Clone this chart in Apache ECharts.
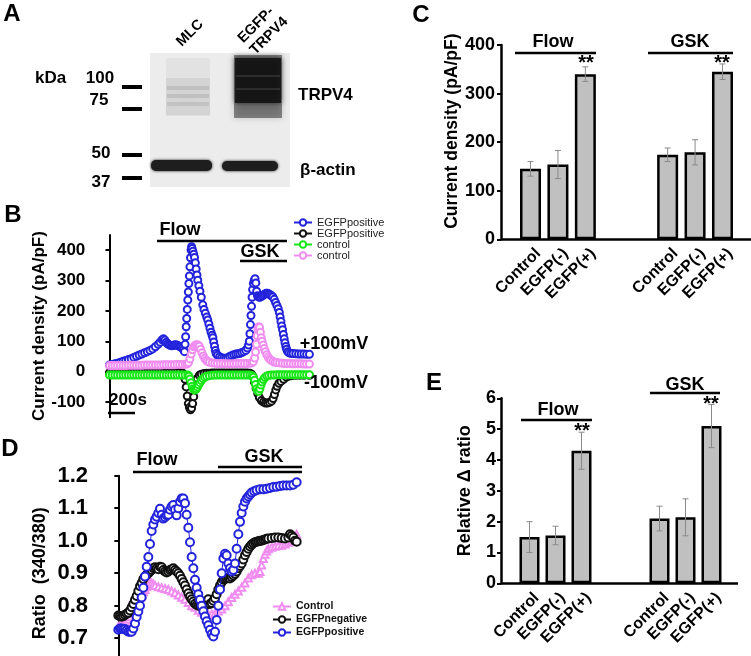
<!DOCTYPE html>
<html>
<head>
<meta charset="utf-8">
<script src="https://cdn.jsdelivr.net/npm/echarts@6.0.0/dist/echarts.min.js"></script>
<style>html,body{margin:0;padding:0;background:#fff;}#chart{width:751px;height:656px;}</style>
</head>
<body>
<div id="chart"></div>
<script>
// ===== Panel B: current density traces, [time (s), pA/pF] =====
const bYTicks = [-100, 0, 100, 200, 300, 400];
const bBluePos = [[0,22],[20,24],[40,26],[60,28],[80,31],[100,34],[120,37],[140,40],[160,43],[180,47],[200,51],[220,55],[240,58],[260,62],[280,66],[300,70],[320,75],[340,82],[360,90],[375,97],[390,105],[400,108],[410,104],[420,97],[430,92],[440,89],[450,87],[460,85],[470,86],[480,88],[490,89],[500,87],[510,85],[520,83],[530,81],[540,77],[548,72],[556,66],[560,90],[564,115],[568,148],[572,175],[576,205],[580,236],[584,262],[588,290],[592,315],[596,345],[600,375],[604,400],[608,411],[612,405],[618,396],[624,386],[630,376],[636,358],[642,338],[648,318],[654,301],[662,283],[670,265],[680,245],[691,220],[700,205],[710,192],[720,180],[728,170],[736,157],[744,143],[752,130],[760,120],[766,112],[772,98],[778,84],[784,70],[790,60],[800,54],[815,49],[830,46],[845,44],[860,44],[875,46],[890,50],[905,53],[920,56],[935,58],[950,59],[965,60],[980,63],[995,66],[1010,70],[1022,78],[1030,88],[1036,100],[1040,125],[1044,155],[1048,185],[1052,215],[1056,245],[1060,270],[1066,290],[1072,300],[1078,306],[1084,292],[1090,265],[1096,250],[1104,246],[1112,245],[1120,246],[1130,249],[1140,252],[1150,255],[1160,258],[1170,258],[1180,256],[1190,253],[1200,250],[1210,246],[1220,238],[1230,228],[1240,218],[1250,207],[1258,195],[1264,180],[1270,165],[1276,150],[1282,138],[1288,122],[1294,108],[1300,95],[1306,83],[1312,74],[1320,66],[1330,62],[1345,60],[1360,60],[1380,59],[1400,58],[1420,58],[1440,58],[1460,57],[1481,57]];
const bBlackPos = [[0,-3],[20,-3],[40,-3],[60,-3],[80,-3],[100,-3],[120,-3],[140,-3],[160,-3],[180,-3],[200,-3],[220,-3],[240,-3],[260,-3],[280,-3],[300,-3],[320,-3],[340,-3],[360,-3],[380,-3],[400,-3],[420,-3],[440,-3],[460,-3],[480,-3],[500,-3],[520,-3],[540,-4],[552,-10],[560,-25],[568,-50],[576,-80],[584,-105],[592,-118],[600,-125],[608,-120],[616,-105],[624,-82],[632,-58],[640,-38],[650,-22],[665,-12],[680,-8],[700,-6],[720,-5],[740,-5],[760,-4],[780,-4],[800,-4],[820,-4],[840,-4],[860,-4],[880,-4],[900,-4],[920,-4],[940,-4],[960,-4],[980,-4],[1000,-4],[1020,-4],[1040,-5],[1052,-8],[1062,-15],[1074,-35],[1086,-55],[1098,-72],[1110,-85],[1125,-95],[1140,-100],[1155,-103],[1170,-103],[1185,-101],[1200,-97],[1212,-88],[1222,-75],[1232,-60],[1242,-48],[1255,-38],[1270,-32],[1290,-25],[1310,-18],[1330,-14],[1350,-13],[1380,-12],[1410,-12],[1440,-12],[1481,-12]];
const bGreenCtl = [[0,-11],[20,-11],[40,-11],[60,-11],[80,-11],[100,-11],[120,-11],[140,-11],[160,-11],[180,-11],[200,-11],[220,-11],[240,-11],[260,-11],[280,-11],[300,-11],[320,-11],[340,-11],[360,-11],[380,-11],[400,-11],[420,-11],[440,-11],[460,-11],[480,-11],[500,-11],[520,-11],[540,-11],[560,-11],[580,-11],[588,-15],[596,-24],[604,-36],[612,-48],[620,-56],[628,-60],[636,-60],[644,-56],[652,-50],[660,-43],[670,-36],[680,-29],[692,-23],[705,-18],[720,-15],[740,-13],[760,-12],[780,-11],[800,-11],[820,-11],[840,-11],[860,-11],[880,-11],[900,-11],[920,-11],[940,-11],[960,-11],[980,-11],[1000,-11],[1020,-11],[1040,-11],[1056,-13],[1066,-18],[1074,-28],[1082,-42],[1090,-56],[1098,-64],[1106,-64],[1114,-56],[1122,-44],[1130,-34],[1140,-26],[1152,-19],[1166,-14],[1180,-12],[1200,-11],[1220,-11],[1240,-10],[1260,-10],[1280,-10],[1300,-10],[1320,-10],[1340,-10],[1360,-10],[1380,-10],[1400,-10],[1420,-10],[1440,-10],[1460,-10],[1481,-10]];
const bPinkCtl = [[0,20],[20,20],[40,20],[60,20],[80,20],[100,20],[120,20],[140,21],[160,21],[180,21],[200,21],[220,21],[240,21],[260,22],[280,22],[300,22],[320,22],[340,22],[360,22],[380,22],[400,23],[420,23],[440,23],[460,23],[480,23],[500,24],[520,24],[540,24],[560,24],[575,25],[585,30],[595,42],[605,58],[615,72],[625,82],[635,87],[645,89],[655,88],[665,84],[675,74],[685,62],[695,52],[705,44],[715,38],[725,34],[740,31],[760,29],[780,28],[800,27],[820,27],[840,27],[860,26],[880,26],[900,26],[920,26],[940,27],[960,27],[980,27],[1000,27],[1020,27],[1040,28],[1055,29],[1065,33],[1075,45],[1082,65],[1088,90],[1094,118],[1100,140],[1106,148],[1112,145],[1118,130],[1124,112],[1130,100],[1138,88],[1146,76],[1155,66],[1165,56],[1175,48],[1185,42],[1195,38],[1210,34],[1225,31],[1240,30],[1260,29],[1280,28],[1300,27],[1320,27],[1340,27],[1360,26],[1380,26],[1400,26],[1420,26],[1440,25],[1460,25],[1481,25]];
const bLegendLabels = ['EGFPpositive', 'EGFPpositive', 'control', 'control'];

// ===== Panel C / E: bar data =====
const groups = ['Flow', 'GSK'];
const conditions = ['Control', 'EGFP(-)', 'EGFP(+)'];
const cMean = [145, 154, 340, 174, 179, 345];
const cErr = [15, 29, 15, 14, 26, 16];
const eMean = [1.5, 1.55, 4.3, 2.1, 2.14, 5.1];
const eErr = [0.5, 0.3, 0.6, 0.4, 0.6, 0.7];

// ===== Panel D: Fura-2 ratio traces, [time (s), ratio] =====
const dBluePos = [[0,0.726],[10,0.73],[20,0.73],[30,0.728],[40,0.728],[50,0.724],[60,0.72],[70,0.72],[80,0.72],[90,0.73],[100,0.745],[110,0.765],[120,0.782],[130,0.8],[140,0.825],[150,0.855],[160,0.89],[170,0.92],[180,0.95],[190,0.99],[200,1.03],[210,1.05],[220,1.065],[230,1.074],[240,1.085],[250,1.098],[260,1.08],[270,1.068],[280,1.072],[290,1.078],[300,1.08],[310,1.095],[320,1.105],[330,1.11],[340,1.095],[350,1.078],[360,1.1],[370,1.12],[380,1.13],[390,1.13],[400,1.115],[410,1.08],[420,1.04],[430,0.995],[440,0.95],[450,0.915],[460,0.88],[470,0.855],[480,0.835],[490,0.818],[500,0.8],[510,0.783],[520,0.767],[530,0.752],[540,0.74],[550,0.726],[560,0.713],[570,0.705],[580,0.72],[590,0.756],[600,0.8],[610,0.85],[620,0.9],[630,0.945],[640,0.96],[650,0.955],[660,0.93],[670,0.915],[680,0.905],[690,0.91],[700,0.93],[710,0.975],[720,1.02],[730,1.058],[740,1.085],[750,1.105],[760,1.12],[770,1.13],[780,1.136],[790,1.142],[800,1.148],[815,1.152],[830,1.155],[850,1.158],[870,1.158],[890,1.16],[910,1.162],[930,1.165],[950,1.166],[970,1.168],[990,1.17],[1010,1.17],[1030,1.17],[1050,1.172],[1070,1.18]];
const dBlackNeg = [[0,0.77],[10,0.768],[20,0.766],[30,0.768],[40,0.772],[50,0.775],[60,0.778],[70,0.785],[80,0.795],[90,0.805],[100,0.818],[110,0.83],[120,0.845],[130,0.86],[140,0.87],[150,0.882],[160,0.89],[170,0.895],[180,0.9],[190,0.905],[200,0.91],[210,0.915],[220,0.918],[230,0.915],[240,0.912],[250,0.92],[260,0.918],[270,0.91],[280,0.905],[290,0.902],[300,0.905],[310,0.91],[320,0.912],[330,0.915],[340,0.91],[350,0.905],[360,0.9],[370,0.892],[380,0.882],[390,0.872],[400,0.862],[410,0.85],[420,0.838],[430,0.828],[440,0.82],[450,0.813],[460,0.806],[470,0.802],[480,0.8],[490,0.8],[500,0.8],[510,0.8],[520,0.8],[530,0.81],[540,0.82],[550,0.805],[560,0.808],[570,0.815],[580,0.823],[590,0.835],[600,0.85],[610,0.862],[620,0.872],[630,0.88],[640,0.882],[650,0.884],[660,0.885],[670,0.884],[680,0.888],[690,0.893],[700,0.898],[710,0.905],[720,0.915],[730,0.922],[740,0.93],[750,0.942],[760,0.955],[770,0.965],[780,0.975],[790,0.982],[800,0.988],[810,0.992],[820,0.995],[830,0.997],[840,0.998],[850,1.0],[860,1.0],[870,1.002],[880,1.004],[890,1.006],[900,1.007],[920,1.008],[940,1.01],[960,1.01],[980,1.008],[1000,1.007],[1020,1.01],[1030,1.02],[1040,1.015],[1050,1.01],[1060,1.0],[1070,0.997]];
const dPinkCtl = [[0,0.735],[10,0.738],[20,0.74],[30,0.742],[40,0.745],[50,0.75],[60,0.758],[70,0.766],[80,0.775],[90,0.785],[100,0.795],[110,0.805],[120,0.815],[130,0.825],[140,0.835],[150,0.843],[160,0.85],[170,0.858],[180,0.865],[190,0.872],[200,0.87],[210,0.866],[220,0.862],[240,0.858],[260,0.855],[280,0.853],[300,0.85],[320,0.845],[340,0.84],[360,0.833],[380,0.826],[400,0.82],[420,0.81],[440,0.8],[460,0.795],[480,0.786],[500,0.78],[520,0.775],[540,0.772],[560,0.774],[580,0.777],[600,0.784],[620,0.79],[640,0.8],[660,0.812],[680,0.825],[700,0.835],[720,0.845],[740,0.857],[760,0.87],[780,0.885],[800,0.895],[820,0.9],[840,0.9],[850,0.905],[860,0.925],[870,0.945],[880,0.958],[890,0.968],[900,0.975],[920,0.98],[940,0.983],[960,0.985],[980,0.986],[1000,0.99],[1020,0.995],[1040,1.0],[1060,1.012],[1070,1.02]];
const dLegendLabels = ['Control', 'EGFPnegative', 'EGFPpositive'];

// ===== build helpers =====
const F = "'Liberation Sans', Arial, Helvetica, sans-serif";
const GAP = 2;
const cats = [], slotOf = [];
groups.forEach((g, gi) => {
  if (gi > 0) for (let k = 0; k < GAP; k++) cats.push('gap' + gi + k);
  conditions.forEach(c => { slotOf.push(cats.length); cats.push(c + '|' + g); });
});
function barData(means) { const a = cats.map(() => '-'); slotOf.forEach((s, i) => { a[s] = means[i]; }); return a; }
function errData(means, errs) { return slotOf.map((s, i) => [s, means[i], errs[i]]); }
function errRender(params, api) {
  const xi = api.value(0), m = api.value(1), e = api.value(2);
  const hi = api.coord([xi, m + e]), lo = api.coord([xi, m - e]);
  const cap = 3, st = { stroke: '#8a8a8a', lineWidth: 1 };
  return { type: 'group', children: [
    { type: 'line', shape: { x1: hi[0], y1: hi[1], x2: lo[0], y2: lo[1] }, style: st },
    { type: 'line', shape: { x1: hi[0] - cap, y1: hi[1], x2: hi[0] + cap, y2: hi[1] }, style: st },
    { type: 'line', shape: { x1: lo[0] - cap, y1: lo[1], x2: lo[0] + cap, y2: lo[1] }, style: st }
  ]};
}
function T(x, y, text, size, extra, align) {
  return Object.assign({ type: 'text', x: x, y: y, z: 100,
    style: { text: text, font: 'bold ' + size + 'px ' + F, fill: '#000', align: align || 'center', verticalAlign: 'middle' } }, extra || {});
}
function L(x1, x2, y, w) { return { type: 'line', z: 100, shape: { x1: x1, y1: y, x2: x2, y2: y }, style: { stroke: '#000', lineWidth: w || 2.5 } }; }
function R(x, y, w, h, fill, blur, r) {
  return { type: 'rect', shape: { x: x, y: y, width: w, height: h, r: r || 0 }, style: { fill: fill, shadowBlur: blur || 0, shadowColor: fill } };
}

const BLUE = '#2323dc', BLACK = '#111111', GREEN = '#16e616', PINK = '#f08cf0';
const axisLbl = (size) => ({ color: '#000', fontWeight: 'bold', fontSize: size, fontFamily: F });

function lineSeries(name, data, color, xi, yi, sym, size, z) {
  return { type: 'line', name: name, data: data, xAxisIndex: xi, yAxisIndex: yi,
    symbol: sym, symbolSize: size, showSymbol: true, showAllSymbol: true,
    itemStyle: { color: color, borderColor: color, borderWidth: 1 },
    lineStyle: { color: color, width: 1 }, z: z, animation: false, silent: true };
}

function catLabel(margin, lh) {
  return {
    rotate: 45, margin: margin, interval: 0, color: '#000', fontWeight: 'bold', fontSize: 16, fontFamily: F,
    verticalAlign: 'top', lineHeight: lh,
    formatter: v => v.indexOf('gap') === 0 ? '' : v.split('|')[0]
  };
}

// Panel A western blot drawn as decoration
const blot = [
  R(150, 53, 140, 134, '#ececec'),
  R(166, 58, 44, 57, 'rgba(0,0,0,0.04)', 12),
  R(166, 78, 44, 38, 'rgba(0,0,0,0.06)', 10),
  R(167, 86, 42, 4, 'rgba(0,0,0,0.09)', 5),
  R(167, 94, 42, 4, 'rgba(0,0,0,0.09)', 5),
  R(167, 102, 42, 4, 'rgba(0,0,0,0.08)', 5),
  R(234, 55, 48, 63, 'rgba(0,0,0,0.42)', 7),
  R(235, 58, 46, 45, 'rgba(20,20,20,0.9)', 5),
  R(236, 75, 44, 2, 'rgba(255,255,255,0.10)', 2),
  R(236, 88, 44, 2, 'rgba(255,255,255,0.10)', 2),
  R(151, 160, 61, 11, '#1e1e1e', 3, 5),
  R(222, 161, 56, 10, '#1e1e1e', 3, 5)
];
const graphics = blot.concat([
  T(12, 14, 'A', 24), T(13, 215, 'B', 24), T(421, 15, 'C', 24), T(10, 449, 'D', 24), T(434, 383, 'E', 24),
  // Panel A labels
  T(190, 33, 'MLC', 14.5, { rotation: Math.PI / 4 }),
  T(256, 25, 'EGFP-', 14.5, { rotation: Math.PI / 4 }),
  T(269, 36, 'TRPV4', 14.5, { rotation: Math.PI / 4 }),
  T(35, 78, 'kDa', 17, null, 'left'),
  T(100, 78, '100', 17), T(99, 100, '75', 17), T(101, 153, '50', 17), T(101, 182, '37', 17),
  L(122, 142, 87, 4), L(122, 142, 109, 4), L(122, 142, 155, 4), L(122, 142, 178, 4),
  T(298, 95, 'TRPV4', 17, null, 'left'),
  T(300, 170, 'β-actin', 17, null, 'left'),
  // Panel B annotations
  L(157, 287, 241), T(180, 230, 'Flow', 18), L(240, 287, 261), T(260, 252, 'GSK', 18),
  T(334, 344, '+100mV', 18), T(336, 383, '-100mV', 18),
  T(128, 400, '200s', 17), L(108, 135, 413, 2.5),
  // Panel C annotations
  L(515, 596, 53), T(553, 42, 'Flow', 18), L(648, 733, 53), T(690, 42, 'GSK', 18),
  T(586, 63, '**', 20), T(722, 63, '**', 20),
  L(501, 751, 239.5, 2.5),
  // Panel D annotations
  L(133, 302, 472), T(157, 460, 'Flow', 18), L(218, 302, 467), T(264, 457, 'GSK', 18),
  // Panel E annotations
  L(521, 592, 420), T(558, 410, 'Flow', 18), L(650, 720, 393), T(685, 385, 'GSK', 18),
  T(582, 431, '**', 20), T(711, 404, '**', 20),
  L(501, 738, 583.5, 2.5)
]);

const chart = echarts.init(document.getElementById('chart'), null, { renderer: 'canvas' });
chart.setOption({
  animation: false,
  backgroundColor: '#fff',
  textStyle: { fontFamily: F },
  grid: [
    { left: 93.3, top: 234.9, width: 226.8, height: 182.4, outerBoundsMode: 'none' },
    { left: 516.8, top: 45, width: 219.4, height: 194.3, outerBoundsMode: 'none' },
    { left: 95, top: 475.7, width: 210, height: 195, outerBoundsMode: 'none' },
    { left: 516.5, top: 398.3, width: 208, height: 185, outerBoundsMode: 'none' }
  ],
  xAxis: [
    { gridIndex: 0, type: 'value', min: -120, max: 1560, show: false },
    { gridIndex: 1, type: 'category', data: cats, axisLine: { show: false }, axisTick: { show: false }, axisLabel: catLabel(4, 22) },
    { gridIndex: 2, type: 'value', min: -140, max: 1120, show: false },
    { gridIndex: 3, type: 'category', data: cats, axisLine: { show: false }, axisTick: { show: false }, axisLabel: catLabel(5, 20) }
  ],
  yAxis: [
    { gridIndex: 0, type: 'value', min: -150, max: 450, interval: 50,
      axisLine: { show: true, lineStyle: { color: '#000', width: 2 } },
      axisTick: { show: true, length: 4, customValues: bYTicks, lineStyle: { color: '#000', width: 2 } },
      axisLabel: Object.assign(axisLbl(17), { margin: 8, customValues: bYTicks }),
      splitLine: { show: false },
      name: 'Current density (pA/pF)', nameLocation: 'middle', nameGap: 42,
      nameTextStyle: { color: '#000', fontWeight: 'bold', fontSize: 17, fontFamily: F } },
    { gridIndex: 1, type: 'value', min: 0, max: 400, interval: 100, offset: 15.8,
      axisLine: { show: true, lineStyle: { color: '#000', width: 2.5 } },
      axisTick: { show: true, length: 4, lineStyle: { color: '#000', width: 2 } },
      axisLabel: Object.assign(axisLbl(18), { margin: 6 }),
      splitLine: { show: false },
      name: 'Current density (pA/pF)', nameLocation: 'middle', nameGap: 37,
      nameTextStyle: { color: '#000', fontWeight: 'bold', fontSize: 17.5, fontFamily: F, padding: [0, 0, 0, 22] } },
    { gridIndex: 2, type: 'value', min: 0.6, max: 1.2, interval: 0.1,
      axisLine: { show: true, lineStyle: { color: '#000', width: 2 } },
      axisTick: { show: true, length: 4, lineStyle: { color: '#000', width: 2 } },
      axisLabel: Object.assign(axisLbl(22), { margin: 7, formatter: v => v.toFixed(1) }),
      splitLine: { show: false },
      name: 'Ratio  (340/380)', nameLocation: 'middle', nameGap: 46,
      nameTextStyle: { color: '#000', fontWeight: 'bold', fontSize: 18, fontFamily: F } },
    { gridIndex: 3, type: 'value', min: 0, max: 6, interval: 1, offset: 15.5,
      axisLine: { show: true, lineStyle: { color: '#000', width: 2.5 } },
      axisTick: { show: true, length: 4, lineStyle: { color: '#000', width: 2 } },
      axisLabel: Object.assign(axisLbl(18), { margin: 5 }),
      splitLine: { show: false },
      name: 'Relative Δ ratio', nameLocation: 'middle', nameGap: 27,
      nameTextStyle: { color: '#000', fontWeight: 'bold', fontSize: 18, fontFamily: F } }
  ],
  legend: [
    { data: ['EGFPpositive +100mV', 'EGFPpositive -100mV', 'control -100mV', 'control +100mV'],
      formatter: n => bLegendLabels[['EGFPpositive +100mV', 'EGFPpositive -100mV', 'control -100mV', 'control +100mV'].indexOf(n)],
      orient: 'vertical', left: 293, top: 217, padding: 0, itemGap: 0, itemWidth: 18, itemHeight: 8,
      selectedMode: false, textStyle: { fontSize: 11, lineHeight: 11, color: '#222', fontFamily: F } },
    { data: ['Control D', 'EGFPnegative D', 'EGFPpositive D'],
      formatter: n => dLegendLabels[['Control D', 'EGFPnegative D', 'EGFPpositive D'].indexOf(n)],
      orient: 'vertical', left: 272, top: 600, padding: 0, itemGap: 0, itemWidth: 18, itemHeight: 8,
      selectedMode: false, textStyle: { fontSize: 10.5, lineHeight: 13, fontWeight: 'bold', color: '#111', fontFamily: F } }
  ],
  graphic: graphics,
  series: [
    lineSeries('EGFPpositive +100mV', bBluePos, BLUE, 0, 0, 'emptyCircle', 7, 2),
    lineSeries('EGFPpositive -100mV', bBlackPos, BLACK, 0, 0, 'emptyCircle', 7, 3),
    lineSeries('control -100mV', bGreenCtl, GREEN, 0, 0, 'emptyCircle', 7, 4),
    lineSeries('control +100mV', bPinkCtl, PINK, 0, 0, 'emptyCircle', 7, 5),
    { type: 'bar', xAxisIndex: 1, yAxisIndex: 1, data: barData(cMean), barWidth: 21,
      itemStyle: { color: '#c0c0c0', borderColor: '#000', borderWidth: 2.5 }, silent: true },
    { type: 'custom', xAxisIndex: 1, yAxisIndex: 1, data: errData(cMean, cErr), renderItem: errRender, encode: { x: 0, y: 1 }, z: 10, silent: true },
    lineSeries('Control D', dPinkCtl, PINK, 2, 2, 'emptyTriangle', 7, 2),
    lineSeries('EGFPnegative D', dBlackNeg, BLACK, 2, 2, 'emptyCircle', 8, 3),
    lineSeries('EGFPpositive D', dBluePos, BLUE, 2, 2, 'emptyCircle', 8, 4),
    { type: 'bar', xAxisIndex: 3, yAxisIndex: 3, data: barData(eMean), barWidth: 20,
      itemStyle: { color: '#c0c0c0', borderColor: '#000', borderWidth: 2.5 }, silent: true },
    { type: 'custom', xAxisIndex: 3, yAxisIndex: 3, data: errData(eMean, eErr), renderItem: errRender, encode: { x: 0, y: 1 }, z: 10, silent: true }
  ]
});
</script>
</body>
</html>
